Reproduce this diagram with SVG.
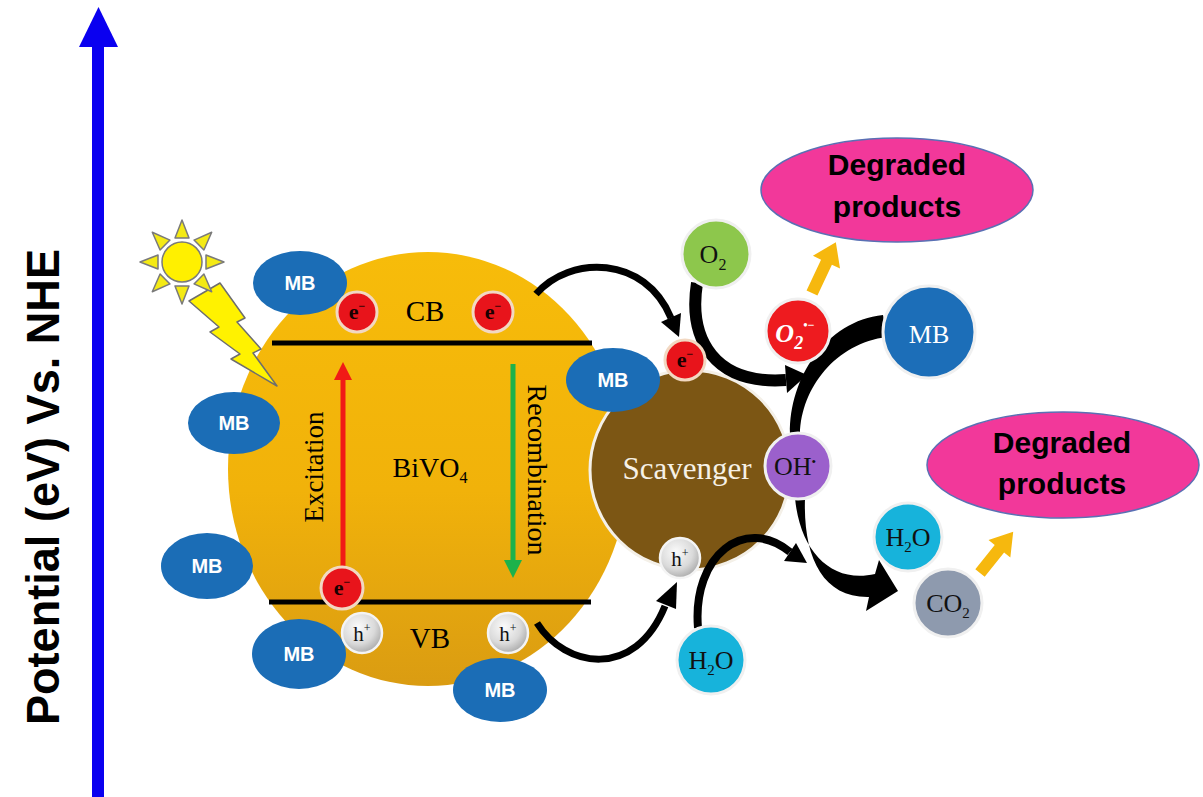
<svg xmlns="http://www.w3.org/2000/svg" width="1203" height="797" viewBox="0 0 1203 797">
  <defs>
    <linearGradient id="bivo4Fill" x1="0" y1="0" x2="0" y2="1">
      <stop offset="0" stop-color="#F7BC0A"/>
      <stop offset="0.55" stop-color="#F1B20A"/>
      <stop offset="1" stop-color="#DA9C12"/>
    </linearGradient>
    <radialGradient id="holeFill" cx="0.4" cy="0.35" r="0.7">
      <stop offset="0" stop-color="#FBFBFB"/>
      <stop offset="0.6" stop-color="#DADADA"/>
      <stop offset="1" stop-color="#A6A6A6"/>
    </radialGradient>
    <polygon id="sunRay" points="206,255 224,262 206,269" fill="#F4EA14" stroke="#7A7A7A" stroke-width="1.5" stroke-linejoin="round"/>
  </defs>
  <style>
    .serif { font-family: "Liberation Serif", "Times New Roman", serif; }
    .mb ellipse { fill: #1B6DB6; }
    .mb text { fill: #ffffff; font-family: "Liberation Sans", Arial, sans-serif; font-weight: bold; font-size: 20px; text-anchor: middle; }
    .elec circle { fill: #E8141B; stroke: #F2D8C2; stroke-width: 3; }
    .elec text { font-family: "Liberation Serif", serif; font-weight: bold; font-size: 22px; text-anchor: middle; fill: #1a0000; }
    .hole circle { fill: url(#holeFill); stroke: #F4F4F4; stroke-width: 2.5; }
    .hole text { font-family: "Liberation Serif", serif; font-size: 21px; text-anchor: middle; fill: #111111; }
    .species circle { stroke: #F0F0F0; stroke-width: 3; }
    .species text { font-family: "Liberation Serif", serif; font-size: 26px; text-anchor: middle; fill: #111111; }
    .conn { fill: none; stroke: #000000; }
    .head { fill: #000000; }
    .prod ellipse { fill: #F2389A; stroke: #5A70B4; stroke-width: 1.5; }
    .prod text { font-family: "Liberation Sans", Arial, sans-serif; font-weight: bold; font-size: 30px; text-anchor: middle; fill: #000000; }
    .yarrow { fill: #F6B80E; }
  </style>

  <rect width="1203" height="797" fill="#ffffff"/>

  <!-- potential axis -->
  <g id="axis">
    <rect x="92" y="44" width="12" height="760" fill="#0A00F0"/>
    <polygon points="79,47 98.5,7 118,47" fill="#0A00F0"/>
    <text transform="translate(59,487) rotate(-90)" text-anchor="middle" font-family="'Liberation Sans', Arial, sans-serif" font-weight="bold" font-size="47" textLength="476" lengthAdjust="spacingAndGlyphs">Potential (eV) Vs. NHE</text>
  </g>

  <!-- BiVO4 particle -->
  <g id="bivo4">
    <ellipse cx="428" cy="469" rx="200" ry="217" fill="url(#bivo4Fill)"/>
  </g>

  <!-- scavenger particle -->
  <g id="scavenger">
    <circle cx="690" cy="470" r="100" fill="#7C5614" stroke="#F4F0E8" stroke-width="3"/>
    <text x="687" y="479" class="serif" font-size="31" fill="#F6F1E6" text-anchor="middle">Scavenger</text>
  </g>

  <!-- band edges -->
  <g id="bands">
    <line x1="272" y1="343" x2="592" y2="343" stroke="#000" stroke-width="5"/>
    <line x1="269" y1="602" x2="591" y2="602" stroke="#000" stroke-width="5"/>
    <text x="425" y="321" class="serif" font-size="29" text-anchor="middle">CB</text>
    <text x="430" y="648" class="serif" font-size="29" text-anchor="middle">VB</text>
    <text x="430" y="477" class="serif" font-size="28" text-anchor="middle">BiVO<tspan dy="6" font-size="16">4</tspan></text>
  </g>

  <!-- excitation / recombination -->
  <g id="excitation">
    <line x1="343" y1="566" x2="343" y2="376" stroke="#F11A16" stroke-width="5"/>
    <polygon points="334,380 343,362 352,380" fill="#F11A16"/>
    <text transform="translate(323,467) rotate(-90)" class="serif" font-size="27" text-anchor="middle">Excitation</text>
  </g>
  <g id="recombination">
    <line x1="513" y1="364" x2="513" y2="562" stroke="#1DB24B" stroke-width="5"/>
    <polygon points="504,560 513,578 522,560" fill="#1DB24B"/>
    <text transform="translate(528,470) rotate(90)" class="serif" font-size="28" text-anchor="middle">Recombination</text>
  </g>

  <!-- connectors -->
  <g id="connectors">
    <!-- CB electron to scavenger -->
    <path class="conn" d="M536 294 C570 255 645 255 671 318" stroke-width="7"/>
    <polygon class="head" points="681,313 679,337 661,322"/>
    <!-- VB hole to scavenger -->
    <path class="conn" d="M537 623 C565 668 635 680 665 606" stroke-width="7"/>
    <polygon class="head" points="676,609 677,582 656,601"/>
    <!-- O2 to superoxide -->
    <path class="conn" d="M697 283 C688 340 715 385 786 380" stroke-width="12"/>
    <polygon class="head" points="785,365 807,375 787,393"/>
    <!-- H2O to hydroxyl -->
    <path class="conn" d="M698 628 C692 555 745 515 790 552" stroke-width="8"/>
    <polygon class="head" points="784,561 796,543 807,563"/>
    <!-- hydroxyl to MB -->
    <path class="head" d="M790 434 C789 378 826 321 883 315 L887 337 C836 343 801 388 800 434 Z"/>
    <!-- hydroxyl to H2O / CO2 -->
    <path class="head" d="M795 498 C800 552 832 584 875 574 L879 560 L898 591 L866 611 L869 597 C822 598 803 556 805 498 Z"/>
  </g>

  <!-- light source -->
  <g id="bolt">
    <polygon points="189,301 220,283 245,318 237,322 261,349 253,353 277,386 231,359 240,354 210,332 219,327" fill="#FFF200" stroke="#6E6E6E" stroke-width="1.5" stroke-linejoin="round"/>
  </g>
  <g id="sun">
    <use href="#sunRay"/>
    <use href="#sunRay" transform="rotate(45 182 262)"/>
    <use href="#sunRay" transform="rotate(90 182 262)"/>
    <use href="#sunRay" transform="rotate(135 182 262)"/>
    <use href="#sunRay" transform="rotate(180 182 262)"/>
    <use href="#sunRay" transform="rotate(225 182 262)"/>
    <use href="#sunRay" transform="rotate(270 182 262)"/>
    <use href="#sunRay" transform="rotate(315 182 262)"/>
    <circle cx="182" cy="262" r="20" fill="#FFF000" stroke="#7A7A7A" stroke-width="1.5"/>
  </g>

  <!-- MB molecules -->
  <g id="mb1" class="mb"><ellipse cx="300" cy="283" rx="47" ry="32"/><text x="300" y="290">MB</text></g>
  <g id="mb2" class="mb"><ellipse cx="234" cy="423" rx="46" ry="31"/><text x="234" y="430">MB</text></g>
  <g id="mb3" class="mb"><ellipse cx="207" cy="566" rx="46" ry="33"/><text x="207" y="573">MB</text></g>
  <g id="mb4" class="mb"><ellipse cx="299" cy="654" rx="47" ry="35"/><text x="299" y="661">MB</text></g>
  <g id="mb5" class="mb"><ellipse cx="500" cy="690" rx="47" ry="32"/><text x="500" y="697">MB</text></g>
  <g id="mb6" class="mb"><ellipse cx="613" cy="380" rx="47" ry="32"/><text x="613" y="387">MB</text></g>

  <!-- electrons -->
  <g id="e1" class="elec"><circle cx="357" cy="312" r="20"/><text x="357" y="319">e<tspan dy="-9" font-size="12">−</tspan></text></g>
  <g id="e2" class="elec"><circle cx="493" cy="312" r="20"/><text x="493" y="319">e<tspan dy="-9" font-size="12">−</tspan></text></g>
  <g id="e3" class="elec"><circle cx="342" cy="588" r="21"/><text x="342" y="595">e<tspan dy="-9" font-size="12">−</tspan></text></g>
  <g id="e4" class="elec"><circle cx="685" cy="360" r="20"/><text x="685" y="367">e<tspan dy="-9" font-size="12">−</tspan></text></g>

  <!-- holes -->
  <g id="h1" class="hole"><circle cx="362" cy="633" r="20"/><text x="362" y="641">h<tspan dy="-9" font-size="12">+</tspan></text></g>
  <g id="h2" class="hole"><circle cx="508" cy="633" r="20"/><text x="508" y="641">h<tspan dy="-9" font-size="12">+</tspan></text></g>
  <g id="h3" class="hole"><circle cx="680" cy="558" r="20"/><text x="680" y="566">h<tspan dy="-9" font-size="12">+</tspan></text></g>

  <!-- reactive species and products -->
  <g id="o2" class="species"><circle cx="716" cy="254" r="34" fill="#8DC74C"/><text x="713" y="263">O<tspan dy="7" font-size="16">2</tspan></text></g>
  <g id="superoxide" class="species"><circle cx="798" cy="331" r="32" fill="#EE1B1F"/><text x="795" y="342" font-weight="bold" font-style="italic" font-size="28" style="fill:#ffffff">O<tspan dy="7" font-size="18">2</tspan><tspan dy="-20" font-size="12">•−</tspan></text></g>
  <g id="mb7" class="species"><circle cx="929" cy="332" r="46" fill="#1C6EB8"/><text x="929" y="343" font-size="31" style="fill:#ffffff">MB</text></g>
  <g id="oh" class="species"><circle cx="798" cy="466" r="33" fill="#9B60CC"/><text x="795" y="475" font-size="23">OH<tspan dy="-9" font-size="13">•</tspan></text></g>
  <g id="h2o-a" class="species"><circle cx="908" cy="537" r="34" fill="#17B3DB"/><text x="908" y="546">H<tspan dy="6" font-size="15">2</tspan><tspan dy="-6">O</tspan></text></g>
  <g id="co2" class="species"><circle cx="948" cy="603" r="34" fill="#8E9AAE"/><text x="948" y="612">CO<tspan dy="6" font-size="15">2</tspan></text></g>
  <g id="h2o-b" class="species"><circle cx="711" cy="660" r="34" fill="#17B3DB"/><text x="711" y="669">H<tspan dy="6" font-size="15">2</tspan><tspan dy="-6">O</tspan></text></g>

  <!-- degradation outputs -->
  <g id="yield-arrows">
    <path class="yarrow" d="M0,-6 L34,-6 L34,-15 L56,0 L34,15 L34,6 L0,6 Z" transform="translate(812,293) rotate(-64.8)"/>
    <path class="yarrow" d="M0,-6 L31,-6 L31,-14 L53,0 L31,14 L31,6 L0,6 Z" transform="translate(980,573) rotate(-51.2)"/>
  </g>
  <g id="products-top" class="prod">
    <ellipse cx="897" cy="190" rx="136" ry="52"/>
    <text x="897" y="175">Degraded</text>
    <text x="897" y="217">products</text>
  </g>
  <g id="products-bottom" class="prod">
    <ellipse cx="1063" cy="465" rx="136" ry="53"/>
    <text x="1062" y="453">Degraded</text>
    <text x="1062" y="494">products</text>
  </g>
</svg>
